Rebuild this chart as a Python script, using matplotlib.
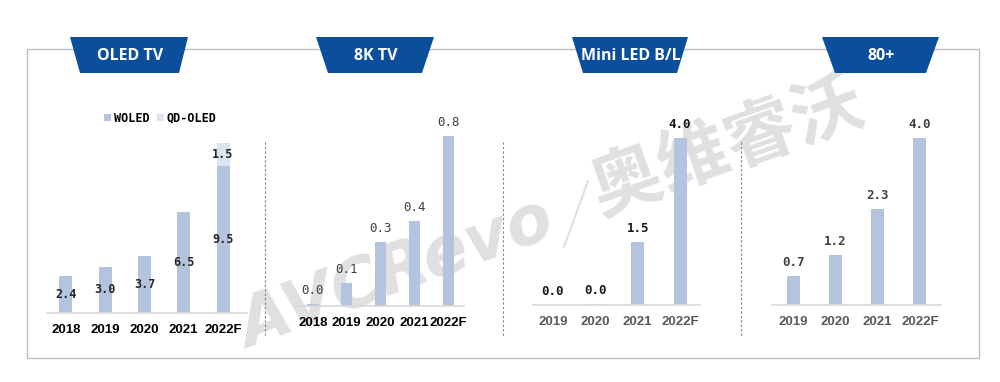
import matplotlib
matplotlib.use("Agg")
import matplotlib.pyplot as plt
from matplotlib.patches import Polygon, Rectangle
from matplotlib.lines import Line2D

# data
oled_years = ["2018", "2019", "2020", "2021", "2022F"]
woled = [2.4, 3.0, 3.7, 6.5, 9.5]
qdoled = [0.0, 0.0, 0.0, 0.0, 1.5]

k8_years = ["2018", "2019", "2020", "2021", "2022F"]
k8 = [0.01, 0.11, 0.30, 0.40, 0.80]

mini_years = ["2019", "2020", "2021", "2022F"]
mini = [0.0, 0.03, 1.5, 4.0]

big_years = ["2019", "2020", "2021", "2022F"]
big = [0.7, 1.2, 2.3, 4.0]

titles = ["OLED TV", "8K TV", "Mini LED B/L", "80+"]

W, H = 1000, 382
BAR = "#b4c3de"
BAR2 = "#dce3f0"
BLUE = "#0b4f9c"

fig = plt.figure(figsize=(W / 100, H / 100), dpi=100)


def fx(x):
    return x / W


def fy(y):
    return 1 - y / H


def panel(left, right, base, top, x0, x1, y1):
    ax = fig.add_axes([fx(left), fy(base), (right - left) / W, (base - top) / H])
    ax.set_xlim(x0, x1)
    ax.set_ylim(0, y1)
    ax.patch.set_visible(False)
    ax.set_zorder(2)
    for s in ["top", "right", "left"]:
        ax.spines[s].set_visible(False)
    ax.spines["bottom"].set_color("#d9d9d9")
    ax.spines["bottom"].set_linewidth(1.2)
    ax.set_yticks([])
    ax.tick_params(axis="x", length=0, pad=8)
    return ax


# outer frame
fig.add_artist(Rectangle((fx(27), fy(358)), (979 - 27) / W, (358 - 49) / H,
                         transform=fig.transFigure, fill=False,
                         edgecolor="#bfbfbf", linewidth=1, zorder=1))

# watermark
fig.text(fx(396), fy(275), "AVCRevo", rotation=20, fontsize=48,
         fontweight="bold", fontstyle="italic", color="#e0e0e0",
         ha="center", va="center", zorder=0.5)
fig.text(fx(727), fy(148), "奥维睿沃", rotation=19.5, fontsize=51,
         family=["Noto Sans CJK SC", "DejaVu Sans"], fontweight="bold",
         color="#e0e0e0", ha="center", va="center", zorder=0.5)
fig.add_artist(Line2D([fx(564), fx(588)], [fy(247), fy(181)],
                      transform=fig.transFigure, color="#e0e0e0", lw=1.5, zorder=0.5))

# title tabs
tabs = [(70, 188, 80, 179), (316, 434, 328, 422), (572, 688, 583, 677), (822, 939, 835, 926)]
for (tl, tr, bl, br), t in zip(tabs, titles):
    pts = [(fx(tl), fy(37)), (fx(tr), fy(37)), (fx(br), fy(73)), (fx(bl), fy(73))]
    fig.add_artist(Polygon(pts, closed=True, transform=fig.transFigure,
                           facecolor=BLUE, edgecolor="none", zorder=3))
    fig.text(fx((tl + tr) / 2 + 1), fy(56), t, color="white", fontsize=11.5,
             family="Open Sans", fontweight="bold", ha="center", va="center", zorder=4)

# dashed separators
for x in [265, 503, 741]:
    fig.add_artist(Line2D([fx(x), fx(x)], [fy(142), fy(337)], transform=fig.transFigure,
                          color="#808080", lw=0.8, ls=(0, (2, 2)), zorder=1))

mono = "DejaVu Sans Mono"

# OLED TV
ax1 = panel(47, 247, 313, 100, -0.48, 4.61, 213 / 15.5)
xs = range(len(oled_years))
b1 = ax1.bar(xs, woled, width=0.33, color=BAR, label="WOLED")
b2 = ax1.bar(xs, qdoled, width=0.33, bottom=woled, color=BAR2, label="QD-OLED")
for i, v in enumerate(woled):
    ax1.text(i, v / 2, f"{v:.1f}", ha="center", va="center", fontsize=8.5,
             family=mono, fontweight="bold", color="#262626")
for i, v in enumerate(qdoled):
    if v > 0:
        ax1.text(i, woled[i] + v / 2, f"{v:.1f}", ha="center", va="center",
                 fontsize=8.5, family=mono, fontweight="bold", color="#262626")
ax1.set_xticks(list(xs), oled_years, fontsize=9.5, fontweight="bold", color="#000000",
               family="Liberation Sans")
fig.legend(handles=[b1, b2], labels=["WOLED", "QD-OLED"], loc="center left",
           bbox_to_anchor=(fx(104), fy(118)), ncol=2, frameon=False,
           handlelength=0.6, handleheight=0.6, handletextpad=0.25, columnspacing=0.6,
           borderpad=0, borderaxespad=0,
           prop={"family": mono, "weight": "bold", "size": 8.5})

# 8K TV
ax2 = panel(293, 464, 306, 100, -0.59, 4.47, 206 / 212)
xs = range(len(k8_years))
ax2.bar(xs, k8, width=0.33, color=BAR)
for i, v in enumerate(k8):
    ax2.annotate(f"{v:.1f}", (i, v), xytext=(0, 5), textcoords="offset points",
                 ha="center", va="bottom", fontsize=9, family=mono, color="#404040")
ax2.set_xticks(list(xs), k8_years, fontsize=9.5, fontweight="bold", color="#000000",
               family="Liberation Sans")

# Mini LED B/L
ax3 = panel(533, 700, 305, 100, -0.47, 3.47, 205 / 41.8)
xs = range(len(mini_years))
ax3.bar(xs, mini, width=0.31, color=BAR)
for i, v in enumerate(mini):
    ax3.annotate(f"{v:.1f}", (i, v), xytext=(0, 5), textcoords="offset points",
                 ha="center", va="bottom", fontsize=9, family=mono, fontweight="bold",
                 color="#1a1a1a")
ax3.set_xticks(list(xs), mini_years, fontsize=9.5, fontweight="bold", color="#595959",
               family="Liberation Sans")

# 80+
ax4 = panel(772, 941, 305, 100, -0.5, 3.5, 205 / 41.7)
xs = range(len(big_years))
ax4.bar(xs, big, width=0.31, color=BAR)
for i, v in enumerate(big):
    ax4.annotate(f"{v:.1f}", (i, v), xytext=(0, 5), textcoords="offset points",
                 ha="center", va="bottom", fontsize=9, family=mono, fontweight="bold",
                 color="#404040")
ax4.set_xticks(list(xs), big_years, fontsize=9.5, fontweight="bold", color="#595959",
               family="Liberation Sans")

fig.savefig("out.png", dpi=100)
